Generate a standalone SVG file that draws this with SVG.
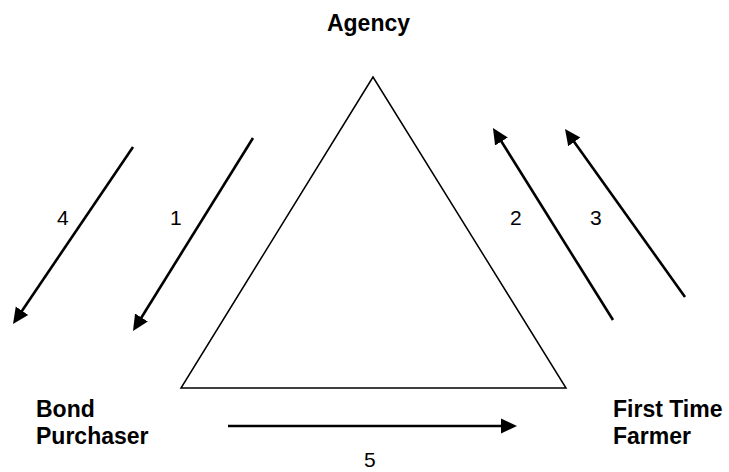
<svg xmlns="http://www.w3.org/2000/svg" width="729" height="472" viewBox="0 0 729 472">
  <style>
    .lbl { font-family: "Liberation Sans", Arial, sans-serif; font-weight: bold; font-size: 23px; fill: #000; }
    .num { font-family: "Liberation Sans", Arial, sans-serif; font-size: 21px; fill: #000; }
    .arrow { stroke: #000; stroke-width: 2.6; fill: none; marker-end: url(#head); }
    .tri { stroke: #000; stroke-width: 1.5; fill: #fff; stroke-linejoin: miter; }
  </style>
  <defs>
    <marker id="head" markerUnits="userSpaceOnUse" markerWidth="17" markerHeight="17" viewBox="0 -8.5 17 17" refX="5" refY="0" orient="auto">
      <path d="M0,-7.5 L16,0 L0,7.5 z" fill="#000"/>
    </marker>
  </defs>
  <rect width="729" height="472" fill="#fff"/>
  <g id="triangle">
    <polygon class="tri" points="373,77 181,388 566,388"/>
  </g>
  <g id="agency">
    <text class="lbl" x="368.5" y="31" text-anchor="middle">Agency</text>
  </g>
  <g id="bond-purchaser">
    <text class="lbl" x="36" y="417">Bond</text>
    <text class="lbl" x="36" y="444">Purchaser</text>
  </g>
  <g id="first-time-farmer">
    <text class="lbl" x="613" y="417">First Time</text>
    <text class="lbl" x="613" y="444">Farmer</text>
  </g>
  <g id="connectors">
    <line class="arrow" x1="133" y1="147" x2="19.2" y2="314.9"/>
    <line class="arrow" x1="253" y1="138" x2="138.8" y2="321.7"/>
    <line class="arrow" x1="613" y1="320" x2="498.8" y2="137.3"/>
    <line class="arrow" x1="685" y1="297" x2="571.4" y2="137.9"/>
    <line class="arrow" x1="228" y1="426" x2="506" y2="426"/>
    <text class="num" x="57" y="225">4</text>
    <text class="num" x="170" y="225">1</text>
    <text class="num" x="510" y="225">2</text>
    <text class="num" x="590" y="225">3</text>
    <text class="num" x="364" y="467">5</text>
  </g>
</svg>
